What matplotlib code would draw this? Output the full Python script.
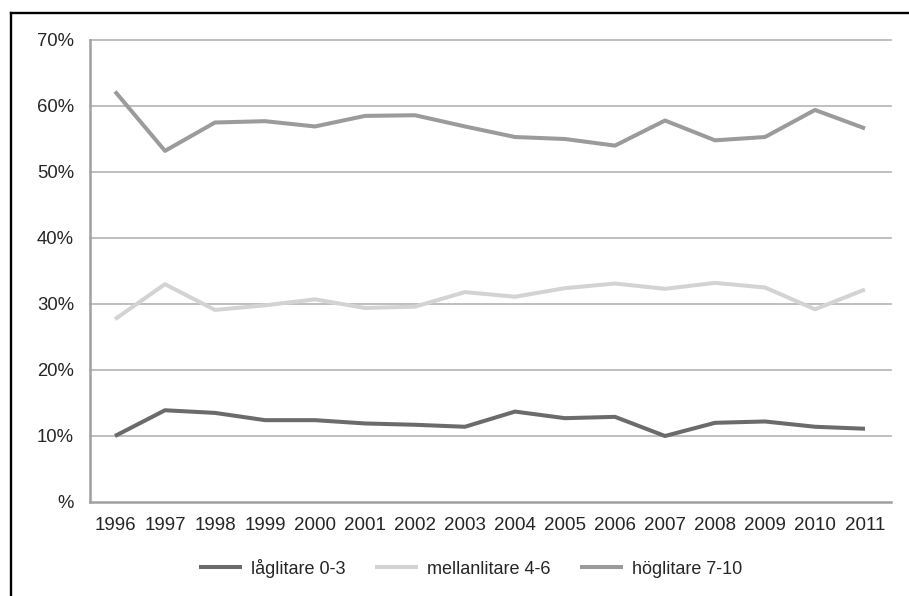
import matplotlib
matplotlib.use("Agg")
import matplotlib.pyplot as plt
from matplotlib.lines import Line2D

years = list(range(1996, 2012))
low = [10.0, 13.9, 13.5, 12.4, 12.4, 11.9, 11.7, 11.4, 13.7, 12.7, 12.9, 10.0, 12.0, 12.2, 11.4, 11.1]
mid = [27.7, 33.0, 29.1, 29.8, 30.7, 29.4, 29.6, 31.8, 31.1, 32.4, 33.1, 32.3, 33.2, 32.5, 29.2, 32.2]
high = [62.2, 53.2, 57.5, 57.7, 56.9, 58.5, 58.6, 56.9, 55.3, 55.0, 54.0, 57.8, 54.8, 55.3, 59.4, 56.6]
series_names = ["låglitare 0-3", "mellanlitare 4-6", "höglitare 7-10"]
y_ticks = [0, 10, 20, 30, 40, 50, 60, 70]
y_labels = ["%", "10%", "20%", "30%", "40%", "50%", "60%", "70%"]

plt.rcParams['font.family'] = ['Liberation Sans', 'DejaVu Sans']

W, H = 909, 596
fig = plt.figure(figsize=(W / 100, H / 100), dpi=100)
ax = fig.add_axes([90 / W, (H - 502) / H, (891 - 90) / W, (502 - 40) / H])

colors = ["#6b6b6b", "#d3d3d3", "#9b9b9b"]
for vals, name, c in zip([low, mid, high], series_names, colors):
    ax.plot(years, vals, color=c, lw=2.9, label=name, solid_capstyle='butt', zorder=3)

ax.set_xlim(1995.5, 2011.52)
ax.set_ylim(0, 70)
ax.set_yticks(y_ticks)
ax.set_yticklabels(y_labels)
ax.set_xticks(years)
ax.set_xticklabels([str(y) for y in years])

for yv in y_ticks[1:]:
    ax.axhline(yv, color="#b4b4b4", lw=1.2, zorder=1, clip_on=False)

for s in ['top', 'right']:
    ax.spines[s].set_visible(False)
for s in ['left', 'bottom']:
    ax.spines[s].set_color("#a0a0a0")
    ax.spines[s].set_linewidth(1.8)

ax.tick_params(axis='y', length=0, pad=11.5, labelsize=13.3, labelcolor="#262626")
ax.tick_params(axis='x', length=0, pad=10.5, labelsize=13.5, labelcolor="#262626")

leg = fig.legend(loc='center', bbox_to_anchor=(470.5 / W, 28 / H), ncol=3, frameon=False,
                 fontsize=13, handlelength=2.4, handletextpad=0.46, columnspacing=1.65,
                 labelcolor="#262626")

# outer border lines (top and left)
fig.add_artist(Line2D([11 / W, 1.0], [1 - 13 / H, 1 - 13 / H], color='black', lw=1.7,
                      transform=fig.transFigure))
fig.add_artist(Line2D([11 / W, 11 / W], [0, 1 - 13 / H], color='black', lw=1.7,
                      transform=fig.transFigure))

fig.savefig("out.png", dpi=100)
